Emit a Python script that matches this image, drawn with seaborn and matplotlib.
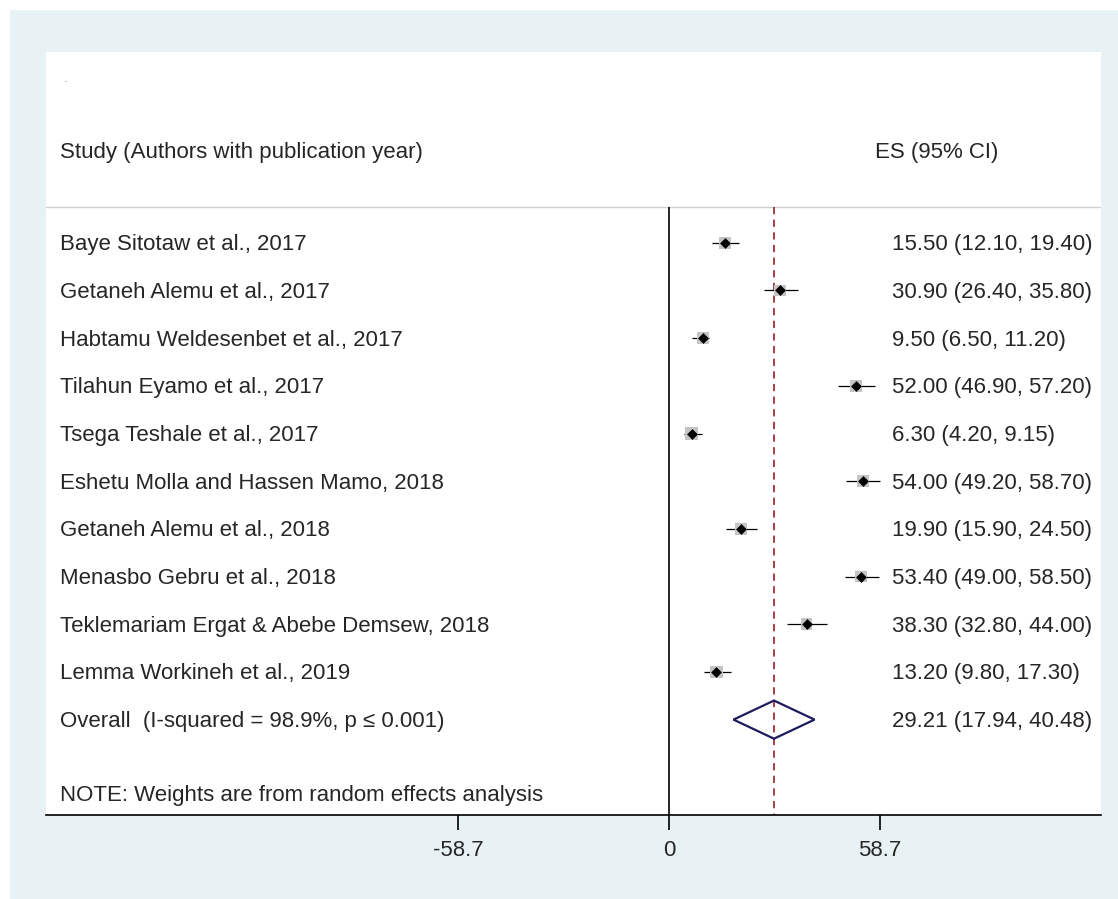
import matplotlib
matplotlib.use("Agg")
import matplotlib.pyplot as plt
import matplotlib.transforms as mtransforms
from matplotlib.patches import Polygon, Rectangle
import seaborn as sns
import pandas as pd
import numpy as np

studies = [
    "Baye Sitotaw et al., 2017",
    "Getaneh Alemu et al., 2017",
    "Habtamu Weldesenbet et al., 2017",
    "Tilahun Eyamo et al., 2017",
    "Tsega Teshale et al., 2017",
    "Eshetu Molla and Hassen Mamo, 2018",
    "Getaneh Alemu et al., 2018",
    "Menasbo Gebru et al., 2018",
    "Teklemariam Ergat & Abebe Demsew, 2018",
    "Lemma Workineh et al., 2019",
]
es = [15.50, 30.90, 9.50, 52.00, 6.30, 54.00, 19.90, 53.40, 38.30, 13.20]
lo = [12.10, 26.40, 6.50, 46.90, 4.20, 49.20, 15.90, 49.00, 32.80, 9.80]
hi = [19.40, 35.80, 11.20, 57.20, 9.15, 58.70, 24.50, 58.50, 44.00, 17.30]
weights = [10.1, 9.9, 10.2, 9.8, 10.2, 9.9, 10.0, 9.9, 9.8, 10.1]
overall_label = "Overall  (I-squared = 98.9%, p \u2264 0.001)"
overall_es, overall_lo, overall_hi = 29.21, 17.94, 40.48
xticks = [-58.7, 0, 58.7]
xtick_labels = ["-58.7", "0", "58.7"]
header_left = "Study (Authors with publication year)"
header_right = "ES (95% CI)"
note = "NOTE: Weights are from random effects analysis"

sns.set_theme(style="white")
plt.rcParams["font.family"] = ["Liberation Sans", "DejaVu Sans"]

W, H = 1118, 899
fig = plt.figure(figsize=(W / 100, H / 100), dpi=100)
fig.patch.set_facecolor("white")
bg = "#e8f1f3"
fig.add_artist(Rectangle((10 / W, 0), 1 - 10 / W, 1 - 10 / H, transform=fig.transFigure,
                         facecolor=bg, edgecolor="none", zorder=-10))

left, right, top, bottom = 46, 1101, 52, 815
ax = fig.add_axes([left / W, 1 - bottom / H, (right - left) / W, (bottom - top) / H])
ax.set_facecolor("white")

px_per_unit = 211 / 58.7
x0 = 669
ax.set_xlim((left - x0) / px_per_unit, (right - x0) / px_per_unit)
ax.set_ylim(13.0, -3.0)

rows = np.arange(1, len(studies) + 1)
df = pd.DataFrame({"study": studies, "es": es, "lo": lo, "hi": hi, "w": weights, "row": rows})

tc = "#262626"
fs = 16

# CI lines
ax.hlines(df["row"], df["lo"], df["hi"], color="black", lw=0.9, zorder=3)
# weight squares
sns.scatterplot(data=df, x="es", y="row", size="w", sizes=(70, 80), marker="s",
                color="#c4c4c4", edgecolor="none", legend=False, ax=ax, zorder=4)
# point estimates
sns.scatterplot(data=df, x="es", y="row", marker="D", s=26, color="black",
                edgecolor="black", legend=False, ax=ax, zorder=5)

orow = len(studies) + 1
diamond = Polygon([[overall_lo, orow], [overall_es, orow - 0.4], [overall_hi, orow],
                   [overall_es, orow + 0.4]], closed=True, fill=False,
                  edgecolor="#1c1c5e", lw=1.6, zorder=6)
ax.add_patch(diamond)

# reference lines
ax.vlines(0, 0.25, 13.0, color="black", lw=1.2, zorder=2)
ax.vlines(overall_es, 0.25, 13.0, color="#a0303a", lw=1.3, linestyles=(0, (4, 3)), zorder=2)
ax.axhline(0.25, color="#cfcfcf", lw=1.0, zorder=1)

trans = mtransforms.blended_transform_factory(ax.transAxes, ax.transData)
xl = (60 - left) / (right - left)
xr = (892 - left) / (right - left)
for r, s, e, l, h in zip(rows, studies, es, lo, hi):
    ax.text(xl, r + 0.04, s, transform=trans, ha="left", va="center", fontsize=fs, color=tc)
    ax.text(xr, r + 0.04, f"{e:.2f} ({l:.2f}, {h:.2f})", transform=trans, ha="left", va="center",
            fontsize=fs, color=tc)
ax.text(xl, orow + 0.04, overall_label, transform=trans, ha="left", va="center", fontsize=fs, color=tc)
ax.text(xr, orow + 0.04, f"{overall_es:.2f} ({overall_lo:.2f}, {overall_hi:.2f})", transform=trans,
        ha="left", va="center", fontsize=fs, color=tc)
ax.text(xl, 12.6, note, transform=trans, ha="left", va="center", fontsize=fs, color=tc)
ax.text(xl, -0.9, header_left, transform=trans, ha="left", va="center", fontsize=fs, color=tc)
ax.text((875 - left) / (right - left), -0.9, header_right, transform=trans, ha="left",
        va="center", fontsize=fs, color=tc)
ax.text((64 - left) / (right - left), -2.4, ".", transform=trans, ha="left", va="center",
        fontsize=5, color=tc)

for sp in ["top", "left", "right"]:
    ax.spines[sp].set_visible(False)
ax.spines["bottom"].set_color("black")
ax.spines["bottom"].set_linewidth(1.2)
ax.set_yticks([])
ax.set_xticks(xticks)
ax.set_xticklabels(xtick_labels, fontsize=fs, color=tc)
ax.tick_params(axis="x", direction="out", length=11, width=1.2, color="black", pad=7,
               bottom=True)
ax.set_xlabel("")
ax.set_ylabel("")

fig.savefig("out.png", dpi=100, facecolor=fig.get_facecolor())
